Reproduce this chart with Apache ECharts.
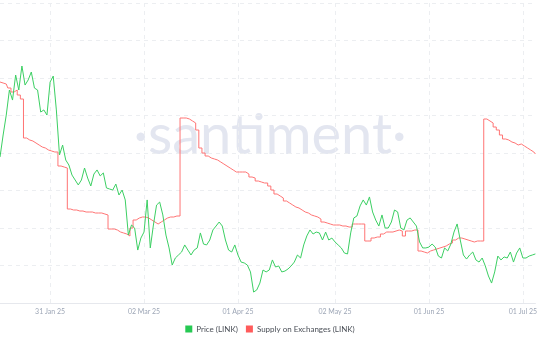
<!DOCTYPE html>
<html><head><meta charset="utf-8">
<script src="https://cdn.jsdelivr.net/npm/echarts@6/dist/echarts.min.js"></script>
<style>html,body{margin:0;padding:0;background:#fff}#c{width:540px;height:340px}</style>
</head><body><div id="c"></div>
<script>
const startDate = '2025-01-15';
const tickDates = ['2025-01-31','2025-03-02','2025-04-01','2025-05-02','2025-06-01','2025-07-01'];
const tickLabels = ['31 Jan 25','02 Mar 25','01 Apr 25','02 May 25','01 Jun 25','01 Jul 25'];
const seriesNames = ['Price (LINK)', 'Supply on Exchanges (LINK)'];
const price = [
19.73,21.2,22.53,24.2,23.53,25.2,24.2,25.8,24.53,24.87,
25.4,24.33,24.2,22.73,22.87,22.53,24.73,25.13,22.87,19.87,
20.53,19.53,19.2,18.53,18.2,17.87,18.2,19.0,18.33,17.8,
18.6,18.87,18.47,18.67,17.67,17.6,17.53,17.93,17.2,17.53,
16.87,14.53,15.2,15.0,13.53,14.33,14.73,16.87,13.67,15.2,
16.53,16.73,15.87,14.53,13.67,12.53,13.0,13.2,13.4,13.87,
13.53,13.2,13.53,13.67,14.67,13.93,13.87,14.2,14.87,15.13,
15.4,15.13,14.2,13.53,13.4,13.87,13.2,12.73,12.67,12.53,
12.07,10.73,10.87,11.33,12.2,12.07,12.2,12.87,12.4,12.47,
12.07,12.13,12.27,12.47,12.73,13.2,13.0,13.87,14.47,14.87,
14.6,14.73,14.67,14.2,14.73,14.2,14.33,14.07,13.87,13.67,
13.33,13.27,14.67,15.67,15.8,16.47,16.87,16.53,17.07,16.07,
15.53,15.13,15.87,15.0,15.0,15.4,16.2,16.07,15.0,14.87,
15.53,15.67,15.4,15.13,14.07,13.67,13.67,13.73,13.93,13.73,
13.13,13.0,13.67,13.47,13.93,14.73,15.27,14.2,13.2,12.93,
13.2,13.4,12.87,12.73,13.0,12.47,11.8,11.33,12.07,13.13,
12.87,13.07,13.0,13.4,12.73,13.33,13.67,13.0,13.0,13.13,
13.2,13.27];
const supply = [
260.5,260,259.5,257.5,255.5,256.5,254,252,232.5,231.5,
231,230,229,228,227.5,226.5,226,225.5,225.5,218.5,
218,217.5,197,196.5,196.5,196,196,195.5,195.5,195.5,
195,195,195,194.5,194,187,187,186.5,185.5,185,
184.5,183.5,187.5,191.5,192.5,193,193,192.5,191.5,190.5,
189.5,190.5,191.5,192.5,193,193,193.5,193.5,242.5,242.5,
242,241,240,236.5,227.5,225,223.5,222.5,222,221.5,
220.5,219.5,218.5,217.5,216.5,215.5,215.5,215.5,215.5,214.5,
213,212.5,211,210.5,210,210,208.5,206.5,204.5,203.5,
202.5,201,200,199,198,197.5,196.5,195.5,195,194,
193.5,193,192,190.5,190,189.5,189,189,189,188.5,
188.5,188,188,189.5,189.5,189.5,189.5,181,181,182.5,
183,183,184.5,185.5,185.5,185.5,186,186.5,186,183.5,
186,186,186.5,186.5,176,175.5,175,176,176.5,177,
177.5,178,178.5,179.5,180,181.5,182.5,182.5,182,181.5,
181,180.5,181,181,181,242,241,240,238,236.5,
234,232,231.5,230.5,230,229,229.5,228.5,227.5,226.5,
225.5,224.5];

const dates = [];
(function(){ const t0 = Date.parse(startDate + 'T00:00:00Z');
  for (let i = 0; i < price.length; i++) dates.push(new Date(t0 + i*86400000).toISOString().slice(0,10)); })();
const isTick = (idx, val) => tickDates.indexOf(val) >= 0;

const chart = echarts.init(document.getElementById('c'), null, {renderer:'canvas'});
chart.setOption({
  animation: false,
  backgroundColor: '#ffffff',
  textStyle: { fontFamily: 'Lato, sans-serif' },
  grid: { left: 0, right: 0, top: 3, bottom: 37, containLabel: false },
  graphic: [{
    type: 'text', left: 'center', top: 108, z: 0, silent: true,
    style: { text: '\u00b7santiment\u00b7', fontFamily: 'Lato', fontWeight: 'normal', fontSize: 56, fill: '#e3e6f0' }
  }],
  legend: {
    data: seriesNames, left: 'center', top: 320, icon: 'rect', itemWidth: 7, itemHeight: 7, itemGap: 8,
    textStyle: { fontSize: 8, color: '#4a4f57', fontFamily: 'Lato, sans-serif', padding: [0,0,0,-1] }
  },
  xAxis: {
    type: 'category', data: dates, boundaryGap: false,
    axisLine: { show: true, lineStyle: { color: '#e6e8ed', width: 1 } },
    axisTick: { show: false },
    axisLabel: { interval: isTick, hideOverlap: false, fontSize: 7, color: '#9da6b6', margin: 5,
      formatter: v => tickLabels[tickDates.indexOf(v)] || '' },
    splitLine: { show: true, interval: isTick, lineStyle: { color: '#eceef1', type: [4,4], width: 1 } }
  },
  yAxis: [
    { type: 'value', min: 10, max: 30, interval: 2.5, axisLabel: { show: false }, axisLine: { show: false }, axisTick: { show: false },
      splitLine: { show: true, lineStyle: { color: '#eceef1', type: [4,4], width: 1 } } },
    { type: 'value', min: 150, max: 300, axisLabel: { show: false }, axisLine: { show: false }, axisTick: { show: false },
      splitLine: { show: false } }
  ],
  series: [
    { name: seriesNames[0], type: 'line', data: price, yAxisIndex: 0, showSymbol: false, symbol: 'none',
      itemStyle: { color: '#26c953' }, lineStyle: { color: '#3ccf63', width: 1 }, z: 3 },
    { name: seriesNames[1], type: 'line', data: supply, yAxisIndex: 1, showSymbol: false, symbol: 'none', step: 'middle',
      itemStyle: { color: '#ff5b5b' }, lineStyle: { color: '#ff7474', width: 1 }, z: 2 }
  ]
});
</script></body></html>
